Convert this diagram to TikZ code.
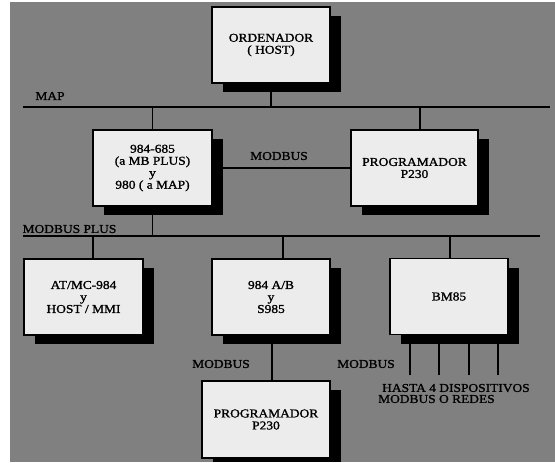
\documentclass[tikz,border=0pt]{standalone}
\usepackage{fontspec}
\setmainfont{Liberation Serif}[FakeStretch=1.12,FakeBold=1.3]
\usetikzlibrary{shadows}
\definecolor{bggray}{RGB}{128,128,128}
\definecolor{boxfill}{RGB}{236,236,236}
\tikzset{
  box/.style={draw=black, line width=1.5pt, fill=boxfill, inner sep=0pt,
    align=center, font=\fontsize{12}{12}\selectfont,
    drop shadow={shadow xshift=11pt, shadow yshift=-9pt, fill=black, opacity=1}},
  lbl/.style={font=\fontsize{12}{12}\selectfont, inner sep=0pt},
  bus/.style={line width=2.4pt},
  link/.style={line width=1.9pt},
}
\begin{document}
\begin{tikzpicture}[x=1pt,y=-1pt]
\useasboundingbox (0,0) rectangle (555,463);
\fill[bggray] (9.5,2) rectangle (555,461.5);
\begin{scope}
\clip (9.5,2) rectangle (555,461.5);
% boxes
\node[box, minimum width=118pt, minimum height=76pt] (host) at (271,45) {ORDENADOR\\( HOST)};
\node[box, minimum width=119pt, minimum height=76pt] (plc) at (152.5,168) {984-685\\(a MB PLUS)\\y\\980 ( a MAP)};
\node[box, minimum width=127pt, minimum height=76pt] (prog1) at (414.5,168) {PROGRAMADOR\\P230};
\node[box, minimum width=119pt, minimum height=76pt] (atmc) at (83.5,297) {AT/MC-984\\y\\HOST / MMI};
\node[box, minimum width=118pt, minimum height=76pt] (ab) at (271,297) {984 A/B\\y\\S985};
\node[box, minimum width=118pt, minimum height=76pt] (bm) at (449,296.5) {BM85};
\node[box, minimum width=128pt, minimum height=77pt] (prog2) at (266,419.5) {PROGRAMADOR\\P230};
% buses
\coordinate (mapL) at (23,107);
\coordinate (mapR) at (550,107);
\coordinate (mbpL) at (23,236);
\coordinate (mbpR) at (540,236);
\draw[bus] (mapL) -- (mapR);
\draw[bus] (mbpL) -- (mbpR);
% connectors
\draw[link, line width=2.6pt] (host.south) -- (host.south |- mapL);
\draw[link] (plc.north) -- (plc.north |- mapL);
\draw[link] ([xshift=5.5pt]prog1.north) -- ([xshift=5.5pt]prog1.north |- mapL);
\draw[link] (plc.east) -- (prog1.west);
\draw[link] (plc.south) -- (plc.south |- mbpL);
\draw[link] ([xshift=9.5pt]atmc.north) -- ([xshift=9.5pt]atmc.north |- mbpL);
\draw[link] ([xshift=12pt]ab.north) -- ([xshift=12pt]ab.north |- mbpL);
\draw[link] ([xshift=1pt]bm.north) -- ([xshift=1pt]bm.north |- mbpL);
\draw[link] ([xshift=1pt]ab.south) -- ([xshift=1pt]ab.south |- prog2.north);
\coordinate (d1) at (410,375);
\coordinate (d2) at (439,375);
\coordinate (d3) at (469,375);
\coordinate (d4) at (498,375);
\foreach \d in {d1,d2,d3,d4}{\draw[link, line width=1.6pt] (\d |- bm.south) -- (\d);}
% labels
\node[lbl] (lmap) at (50,96) {MAP};
\node[lbl] (lmbp) at (69.5,229) {MODBUS PLUS};
\node[lbl] (lmb1) at (279,156) {MODBUS};
\node[lbl] (lmb2) at (221,364) {MODBUS};
\node[lbl] (lmb3) at (366,364) {MODBUS};
\node[lbl, align=left, anchor=west, font=\fontsize{12}{11}\selectfont] (lhasta) at (378,393.5) {\hspace*{4pt}HASTA 4 DISPOSITIVOS\\MODBUS O REDES};
\end{scope}
\end{tikzpicture}
\end{document}
